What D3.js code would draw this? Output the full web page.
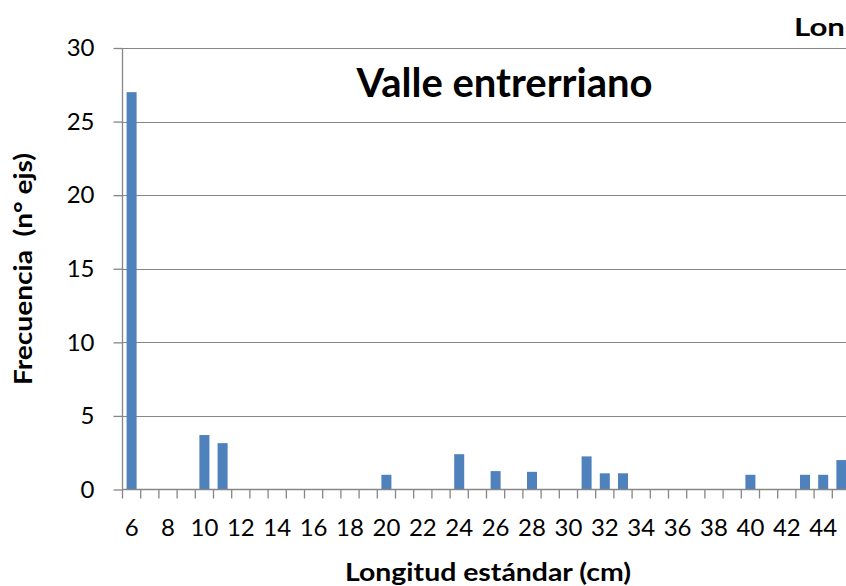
<!DOCTYPE html>
<html>
<head>
<meta charset="utf-8">
<script src="https://cdn.jsdelivr.net/npm/d3@7"></script>
<style>
html,body{margin:0;padding:0;background:#fff;overflow:hidden;}
svg{display:block;font-family:Lato,"Open Sans",sans-serif;}
</style>
</head>
<body>
<svg id="chart" width="846" height="586"></svg>
<script>
const categories = [6,7,8,9,10,11,12,13,14,15,16,17,18,19,20,21,22,23,24,25,26,27,28,29,30,31,32,33,34,35,36,37,38,39,40,41,42,43,44,45];
const frecuencia = [27,0,0,0,3.7,3.15,0,0,0,0,0,0,0,0,1,0,0,0,2.4,0,1.25,0,1.2,0,0,2.25,1.1,1.1,0,0,0,0,0,0,1,0,0,1,1,2];
const yTicks = [0,5,10,15,20,25,30];
const chartTitle = "Valle entrerriano";
const topTitle = "Lon";
const xTitle = "Longitud estándar (cm)";
const yTitle = "Frecuencia  (n° ejs)";

const svg = d3.select("#chart");
const pLeft = 122.5, pBottom = 489.5, pTop = 48, step = 18.2;
const pRight = pLeft + categories.length * step;

const x = d3.scaleBand().domain(categories).range([pLeft, pRight]).paddingInner(0.45).paddingOuter(0.225);
const y = d3.scaleLinear().domain([0, 30]).range([pBottom, pTop]);
const grid = "#868686";

// gridlines
svg.append("g").selectAll("line").data(yTicks.filter(d => d > 0)).join("line")
  .attr("x1", pLeft).attr("x2", pRight)
  .attr("y1", d => Math.round(y(d)) + 0.5).attr("y2", d => Math.round(y(d)) + 0.5)
  .attr("stroke", grid).attr("stroke-width", 1);

// bars
svg.append("g").selectAll("rect").data(categories).join("rect")
  .attr("x", d => x(d)).attr("width", x.bandwidth())
  .attr("y", (d, i) => y(frecuencia[i])).attr("height", (d, i) => pBottom - y(frecuencia[i]))
  .attr("fill", "#4f81bd");

// y axis
const yAxis = svg.append("g").attr("transform", `translate(${pLeft},0)`)
  .call(d3.axisLeft(y).tickValues(yTicks).tickSize(9).tickPadding(19).tickFormat(d3.format("d")));
yAxis.selectAll("path,line").attr("stroke", grid).attr("stroke-width", 1.3);
yAxis.select(".domain").attr("d", `M0,${pBottom}V${pTop}`);
yAxis.selectAll("text").attr("font-size", 24).attr("fill", "#000").attr("font-family", "Lato,sans-serif");

// x axis: ticks at category boundaries
const xg = svg.append("g");
xg.append("line").attr("x1", pLeft).attr("x2", pRight).attr("y1", pBottom).attr("y2", pBottom)
  .attr("stroke", grid).attr("stroke-width", 1.3);
xg.selectAll("line.tk").data(d3.range(categories.length + 1)).join("line").attr("class", "tk")
  .attr("x1", i => pLeft + i * step).attr("x2", i => pLeft + i * step)
  .attr("y1", pBottom).attr("y2", pBottom + 9)
  .attr("stroke", grid).attr("stroke-width", 1.3);
xg.selectAll("text").data(categories.filter((d, i) => i % 2 === 0)).join("text")
  .attr("x", d => x(d) + x.bandwidth() / 2).attr("y", 536)
  .attr("text-anchor", "middle").attr("font-size", 24).text(d => d);

// titles
svg.append("text").attr("x", 504.5).attr("y", 97).attr("text-anchor", "middle")
  .attr("font-size", 40).attr("font-weight", "bold").text(chartTitle);
svg.append("text").attr("x", 794).attr("y", 36)
  .attr("font-size", 24).attr("font-weight", "bold")
  .attr("textLength", 51).attr("lengthAdjust", "spacingAndGlyphs").text(topTitle);
svg.append("text").attr("x", 488).attr("y", 581).attr("text-anchor", "middle")
  .attr("font-size", 25).attr("font-weight", "bold")
  .attr("textLength", 286).attr("lengthAdjust", "spacingAndGlyphs").text(xTitle);
svg.append("text").attr("transform", "translate(32,269) rotate(-90)").attr("text-anchor", "middle")
  .attr("font-size", 25).attr("font-weight", "bold").style("white-space", "pre")
  .attr("textLength", 232).attr("lengthAdjust", "spacingAndGlyphs").text(yTitle);
</script>
</body>
</html>
